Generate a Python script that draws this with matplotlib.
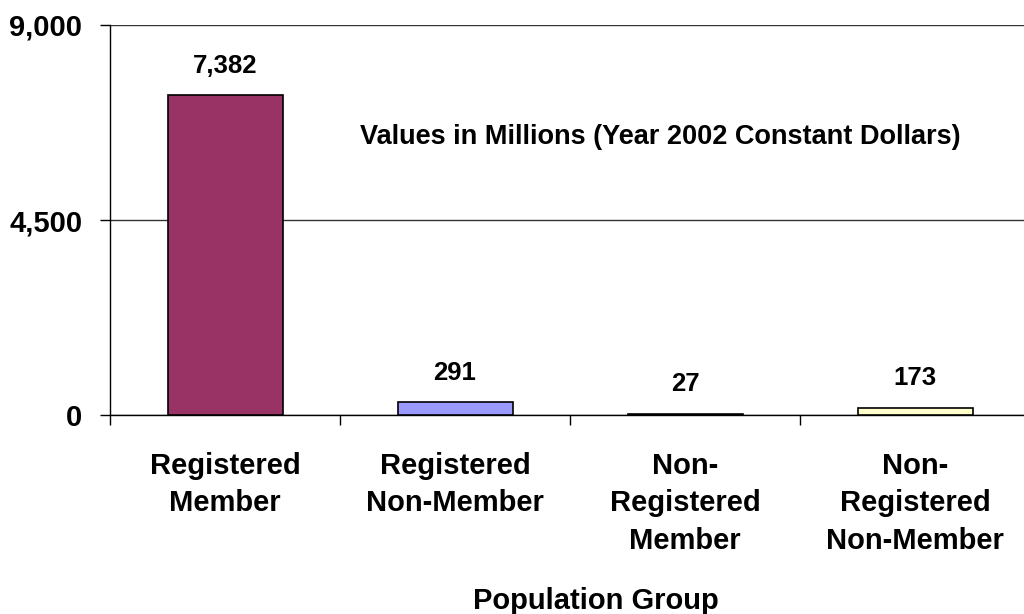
import matplotlib.pyplot as plt
from matplotlib.ticker import FuncFormatter

groups = ["Registered\nMember", "Registered\nNon-Member",
          "Non-\nRegistered\nMember", "Non-\nRegistered\nNon-Member"]
values = [7382, 291, 27, 173]
colors = ["#993366", "#9999FF", "#CCFFFF", "#FFFFCC"]
yticks = [0, 4500, 9000]

plt.rcParams['font.family'] = ['Liberation Sans', 'DejaVu Sans']
plt.rcParams['font.weight'] = 'bold'

fig = plt.figure(figsize=(10.24, 6.14), dpi=100)
# axes runs a bit past the right edge, like the original
ax = fig.add_axes([110 / 1024, 1 - 415 / 614, 920 / 1024, 390 / 614])

x = range(len(groups))
ax.bar(x, values, width=0.5, color=colors, edgecolor='black', linewidth=1.2, zorder=3)

for i, v in zip(x, values):
    ax.text(i, v + 400, f"{v:,}", ha='center', va='bottom', fontsize=18.5, fontweight='bold')

ax.set_xlim(-0.5, len(groups) - 0.5)
ax.set_ylim(0, 9000)
ax.set_yticks(yticks)
ax.yaxis.set_major_formatter(FuncFormatter(lambda v, p: f"{int(v):,}"))
ax.set_xticks([i + 0.5 for i in range(-1, len(groups))])
ax.set_xticklabels([])
ax.tick_params(axis='y', labelsize=21, length=7, width=1, pad=13)
ax.tick_params(axis='x', length=7, width=1)
for lbl in ax.get_yticklabels():
    lbl.set_fontweight('bold')

ax.yaxis.grid(True, color='#333333', linewidth=1, zorder=0)
for s in ['top', 'right']:
    ax.spines[s].set_visible(False)
ax.spines['left'].set_linewidth(1)
ax.spines['bottom'].set_linewidth(1)

for i, g in enumerate(groups):
    ax.text(i, -0.095, g, transform=ax.get_xaxis_transform(), ha='center', va='top',
            fontsize=21, fontweight='bold', linespacing=1.42)

ax.text(0.598, 0.713, "Values in Millions (Year 2002 Constant Dollars)", transform=ax.transAxes,
        ha='center', va='center', fontsize=19.5, fontweight='bold')

fig.text(596 / 1024, 1 - 601 / 614, "Population Group", ha='center', va='center',
         fontsize=21, fontweight='bold')

plt.savefig("out.png", dpi=100)
